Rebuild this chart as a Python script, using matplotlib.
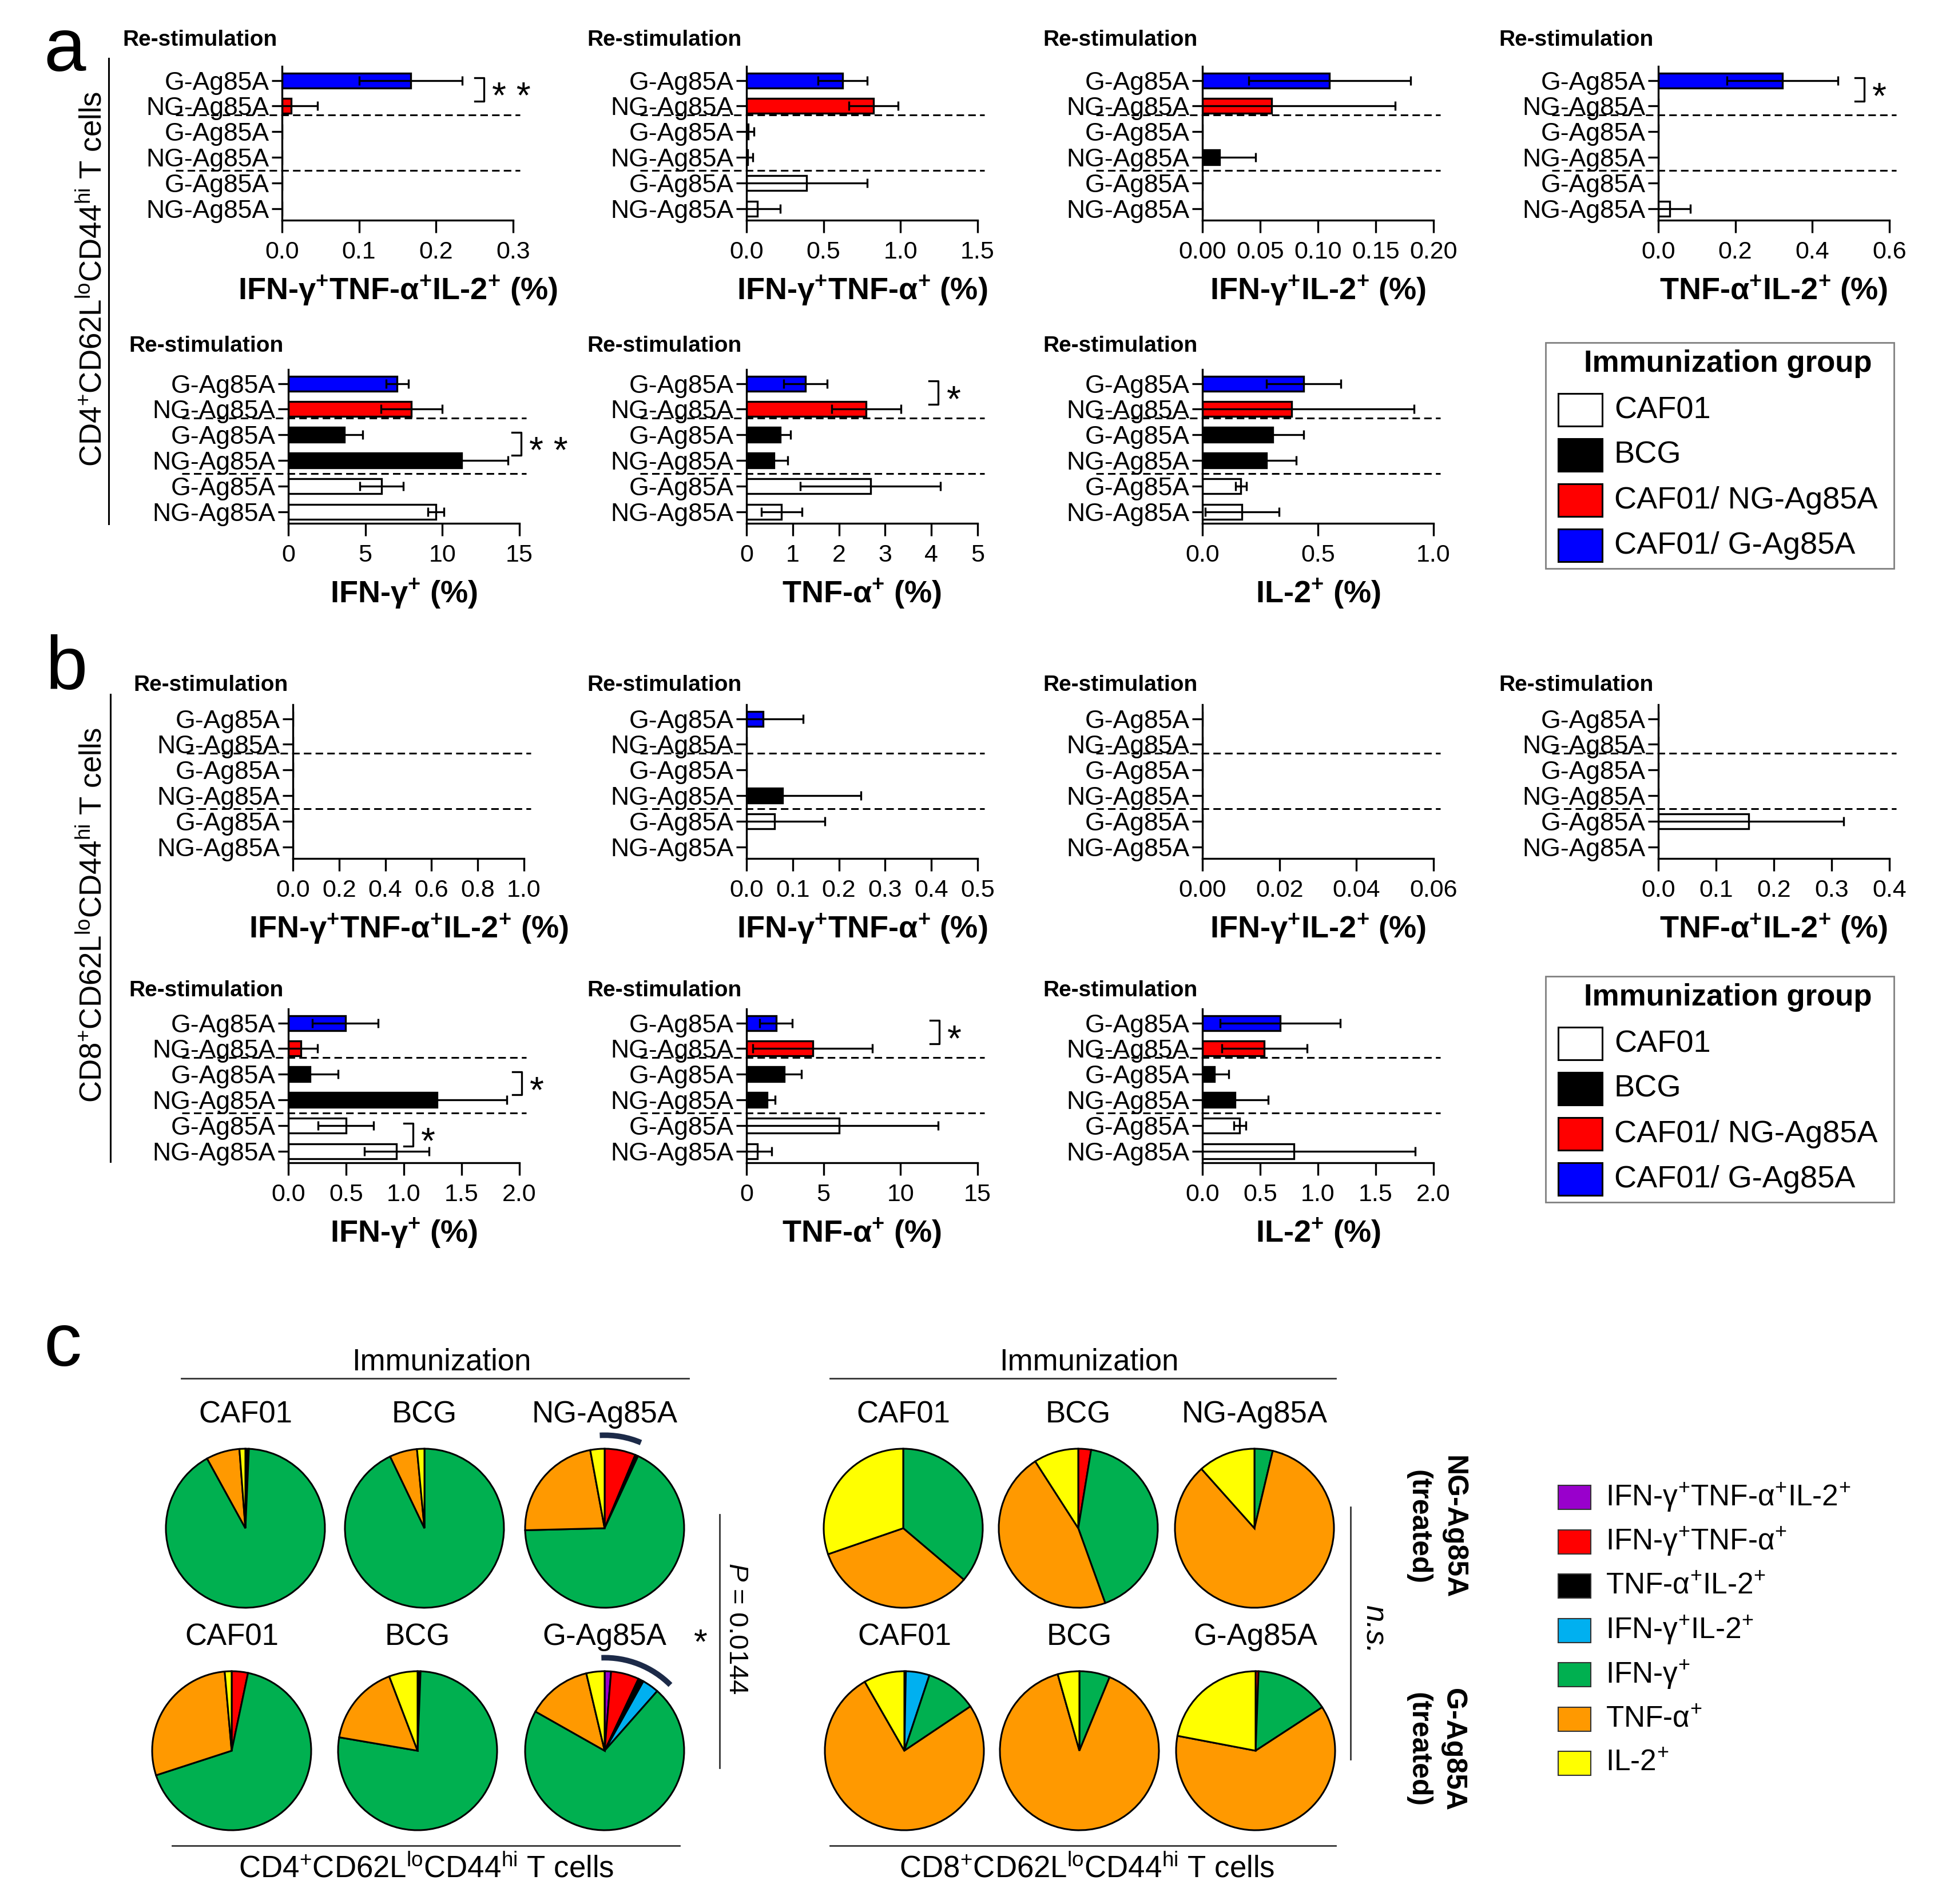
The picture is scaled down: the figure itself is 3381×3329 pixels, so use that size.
import numpy as np
import matplotlib
matplotlib.use('Agg')
import matplotlib.pyplot as plt
import matplotlib.transforms as mtransforms
from matplotlib.patches import Rectangle, Arc
from matplotlib.lines import Line2D

plt.rcParams['font.family'] = ['Liberation Sans', 'DejaVu Sans']
plt.rcParams['mathtext.fontset'] = 'custom'
plt.rcParams['mathtext.rm'] = 'Liberation Sans'
plt.rcParams['mathtext.it'] = 'Liberation Sans:italic'
plt.rcParams['mathtext.bf'] = 'Liberation Sans:bold'

# ---------------- data ----------------
restim = ['G-Ag85A', 'NG-Ag85A', 'G-Ag85A', 'NG-Ag85A', 'G-Ag85A', 'NG-Ag85A']
row_colors = ['#0000ff', '#ff0000', '#000000', '#000000', '#ffffff', '#ffffff']

immun_groups = ['CAF01', 'BCG', 'CAF01/ NG-Ag85A', 'CAF01/ G-Ag85A']
immun_colors = ['#ffffff', '#000000', '#ff0000', '#0000ff']

# CD4 (panel a), mean and error, rows top to bottom
cd4_tri = [0.167, 0.012, 0, 0, 0, 0]
cd4_tri_err = [0.067, 0.034, 0, 0, 0, 0]
cd4_ifn_tnf = [0.625, 0.823, 0.010, 0.006, 0.390, 0.070]
cd4_ifn_tnf_err = [0.16, 0.16, 0.04, 0.035, 0.395, 0.15]
cd4_ifn_il2 = [0.110, 0.060, 0, 0.015, 0, 0]
cd4_ifn_il2_err = [0.070, 0.107, 0, 0.031, 0, 0]
cd4_tnf_il2 = [0.322, 0, 0, 0, 0, 0.029]
cd4_tnf_il2_err = [0.144, 0, 0, 0, 0, 0.054]
cd4_ifn = [7.07, 8.0, 3.64, 11.24, 6.06, 9.58]
cd4_ifn_err = [0.73, 1.98, 1.2, 3.03, 1.42, 0.52]
cd4_tnf = [1.28, 2.59, 0.73, 0.60, 2.68, 0.76]
cd4_tnf_err = [0.47, 0.75, 0.22, 0.29, 1.52, 0.44]
cd4_il2 = [0.438, 0.387, 0.305, 0.276, 0.167, 0.172]
cd4_il2_err = [0.16, 0.53, 0.133, 0.13, 0.024, 0.16]

# CD8 (panel b)
cd8_tri = [0, 0, 0, 0, 0, 0]
cd8_tri_err = [0, 0, 0, 0, 0, 0]
cd8_ifn_tnf = [0.036, 0, 0, 0.078, 0.061, 0]
cd8_ifn_tnf_err = [0.087, 0, 0, 0.169, 0.108, 0]
cd8_ifn_il2 = [0, 0, 0, 0, 0, 0]
cd8_ifn_il2_err = [0, 0, 0, 0, 0, 0]
cd8_tnf_il2 = [0, 0, 0, 0, 0.156, 0]
cd8_tnf_il2_err = [0, 0, 0, 0, 0.165, 0]
cd8_ifn = [0.493, 0.107, 0.188, 1.287, 0.499, 0.938]
cd8_ifn_err = [0.285, 0.145, 0.241, 0.606, 0.241, 0.279]
cd8_tnf = [1.92, 4.29, 2.45, 1.35, 6.0, 0.69]
cd8_tnf_err = [1.06, 3.87, 1.1, 0.49, 6.45, 0.94]
cd8_il2 = [0.674, 0.536, 0.106, 0.281, 0.324, 0.79]
cd8_il2_err = [0.52, 0.37, 0.122, 0.29, 0.053, 1.05]

cd4_ticks = [['0.0', '0.1', '0.2', '0.3'], ['0.0', '0.5', '1.0', '1.5'],
             ['0.00', '0.05', '0.10', '0.15', '0.20'], ['0.0', '0.2', '0.4', '0.6'],
             ['0', '5', '10', '15'], ['0', '1', '2', '3', '4', '5'], ['0.0', '0.5', '1.0']]
cd8_ticks = [['0.0', '0.2', '0.4', '0.6', '0.8', '1.0'], ['0.0', '0.1', '0.2', '0.3', '0.4', '0.5'],
             ['0.00', '0.02', '0.04', '0.06'], ['0.0', '0.1', '0.2', '0.3', '0.4'],
             ['0.0', '0.5', '1.0', '1.5', '2.0'], ['0', '5', '10', '15'],
             ['0.0', '0.5', '1.0', '1.5', '2.0']]

P = r'$^{\mathbf{+}}$'
xlabels = ['IFN-γ' + P + 'TNF-α' + P + 'IL-2' + P + ' (%)',
           'IFN-γ' + P + 'TNF-α' + P + ' (%)',
           'IFN-γ' + P + 'IL-2' + P + ' (%)',
           'TNF-α' + P + 'IL-2' + P + ' (%)',
           'IFN-γ' + P + ' (%)',
           'TNF-α' + P + ' (%)',
           'IL-2' + P + ' (%)']

# significance: (panel index, upper row, lower row, x, stars)
cd4_sig = [(0, 0, 1, 0.262, '* *'), (3, 0, 1, 0.535, '*'), (4, 2, 3, 15.1, '* *'), (5, 0, 1, 4.15, '*')]
cd8_sig = [(4, 2, 3, 2.02, '*'), (4, 4, 5, 1.08, '*'), (5, 0, 1, 12.5, '*')]

# pies (panel c): order purple, red, black, blue, green, orange, yellow
cyto_labels = ['IFN-γ$^{+}$TNF-α$^{+}$IL-2$^{+}$', 'IFN-γ$^{+}$TNF-α$^{+}$', 'TNF-α$^{+}$IL-2$^{+}$',
               'IFN-γ$^{+}$IL-2$^{+}$', 'IFN-γ$^{+}$', 'TNF-α$^{+}$', 'IL-2$^{+}$']
cyto_colors = ['#9900cc', '#ff0000', '#000000', '#00b0f0', '#00b050', '#ff9900', '#ffff00']

cd4_ng_caf01 = [0, 0, 0.7, 0, 91.3, 6.8, 1.2]
cd4_ng_bcg = [0, 0, 0, 0, 92.9, 5.6, 1.5]
cd4_ng_ag85a = [0, 6.3, 0.6, 0, 67.7, 22.5, 2.9]
cd4_g_caf01 = [0, 3.3, 0, 0, 66.7, 28.6, 1.4]
cd4_g_bcg = [0, 0, 0.6, 0, 77.1, 16.5, 5.8]
cd4_g_ag85a = [1.3, 5.7, 1.1, 3.4, 71.7, 13.1, 3.7]
cd8_ng_caf01 = [0, 0, 0, 0, 36.2, 33.5, 30.3]
cd8_ng_bcg = [0, 2.6, 0, 0, 41.9, 46.4, 9.1]
cd8_ng_ag85a = [0, 0, 0, 0, 3.7, 84.7, 11.6]
cd8_g_caf01 = [0, 0, 0.3, 4.8, 10.5, 76.1, 8.3]
cd8_g_bcg = [0, 0, 0, 0, 6.2, 89.4, 4.4]
cd8_g_ag85a = [0, 0.6, 0, 0, 15.2, 62.2, 22.0]

pie_top_names = ['CAF01', 'BCG', 'NG-Ag85A']
pie_bottom_names = ['CAF01', 'BCG', 'G-Ag85A']

# ---------------- layout helpers (pixels) ----------------
W, H = 3381, 3329
AX_W, AX_H = 404, 269
fig = plt.figure(figsize=(W / 100, H / 100), dpi=100)


def fx(x):
    return x / W


def fy(y):
    return 1 - y / H


def bar_panel(x0, top, vals, errs, ticklabels, xlabel, restim_dy):
    ax = fig.add_axes([fx(x0), fy(top + AX_H), AX_W / W, AX_H / H])
    rows = np.arange(len(restim))
    v = np.array(vals, dtype=float)
    e = np.array(errs, dtype=float)
    ax.barh(rows, v, height=0.58, color=row_colors, edgecolor='k', linewidth=2.4, zorder=2)
    m = e > 0
    if m.any():
        ax.errorbar(v[m], rows[m], xerr=e[m], fmt='none', ecolor='k', elinewidth=2.4,
                    capsize=6, capthick=2.4, zorder=3)
    ticks = [float(t) for t in ticklabels]
    ax.set_xlim(ticks[0], ticks[-1])
    ax.set_ylim(5.45, -0.55)
    ax.set_xticks(ticks)
    ax.set_xticklabels(ticklabels)
    ax.set_yticks(rows)
    ax.set_yticklabels(restim)
    for s in ['top', 'right']:
        ax.spines[s].set_visible(False)
    for s in ['left', 'bottom']:
        ax.spines[s].set_linewidth(2.4)
    ax.tick_params(axis='x', length=16, width=2.4, pad=10, labelsize=31)
    ax.tick_params(axis='y', length=13, width=2.4, pad=3, labelsize=32)
    trans = mtransforms.blended_transform_factory(ax.transAxes, ax.transData)
    for yd in [1.35, 3.52]:
        ax.plot([-0.46, 1.03], [yd, yd], transform=trans, color='k', lw=2.2,
                ls=(0, (4.3, 2.4)), clip_on=False, zorder=1)
    ax.text(-0.69, 1 + restim_dy, 'Re-stimulation', transform=ax.transAxes,
            fontsize=28, fontweight='bold', ha='left', va='center')
    ax.text(0.5, -0.46, xlabel, transform=ax.transAxes, fontsize=39,
            fontweight='bold', ha='center', va='center')
    return ax


def add_sig(ax, r0, r1, x, stars):
    xmax = ax.get_xlim()[1]
    arm = 0.04 * xmax
    ax.plot([x - arm, x, x, x - arm], [r0 - 0.1, r0 - 0.1, r1 - 0.2, r1 - 0.2],
            color='k', lw=2.4, clip_on=False)
    ax.text(x + 0.035 * xmax, (r0 + r1) / 2 + 0.2, stars, fontsize=46, ha='left',
            va='center', clip_on=False)


cd4_sets = [(cd4_tri, cd4_tri_err), (cd4_ifn_tnf, cd4_ifn_tnf_err), (cd4_ifn_il2, cd4_ifn_il2_err),
            (cd4_tnf_il2, cd4_tnf_il2_err), (cd4_ifn, cd4_ifn_err), (cd4_tnf, cd4_tnf_err),
            (cd4_il2, cd4_il2_err)]
cd8_sets = [(cd8_tri, cd8_tri_err), (cd8_ifn_tnf, cd8_ifn_tnf_err), (cd8_ifn_il2, cd8_ifn_il2_err),
            (cd8_tnf_il2, cd8_tnf_il2_err), (cd8_ifn, cd8_ifn_err), (cd8_tnf, cd8_tnf_err),
            (cd8_il2, cd8_il2_err)]

# panel positions: (x0, top, restim offset)
cd4_pos = [(493, 116, 0.17), (1305, 116, 0.17), (2102, 116, 0.17), (2899, 116, 0.17),
           (504, 646, 0.152), (1305, 646, 0.152), (2102, 646, 0.152)]
cd8_pos = [(512, 1232, 0.128), (1305, 1232, 0.128), (2102, 1232, 0.128), (2899, 1232, 0.128),
           (504, 1764, 0.119), (1305, 1764, 0.119), (2102, 1764, 0.119)]

for sets, pos, ticks, sigs in [(cd4_sets, cd4_pos, cd4_ticks, cd4_sig),
                               (cd8_sets, cd8_pos, cd8_ticks, cd8_sig)]:
    axes = []
    for i, (vals, errs) in enumerate(sets):
        x0, top, dy = pos[i]
        axes.append(bar_panel(x0, top, vals, errs, ticks[i], xlabels[i], dy))
    for (i, r0, r1, x, st) in sigs:
        add_sig(axes[i], r0, r1, x, st)

# group labels and lines on the left
fig.text(fx(163), fy(488), r'CD4$^{+}$CD62L$^{\mathrm{lo}}$CD44$^{\mathrm{hi}}$ T cells',
         rotation=90, fontsize=38, ha='center', va='center')
fig.add_artist(Line2D([fx(190), fx(190)], [fy(102), fy(916)], color='k', lw=2.2))
fig.text(fx(163), fy(1600), r'CD8$^{+}$CD62L$^{\mathrm{lo}}$CD44$^{\mathrm{hi}}$ T cells',
         rotation=90, fontsize=38, ha='center', va='center')
fig.add_artist(Line2D([fx(193), fx(193)], [fy(1214), fy(2031)], color='k', lw=2.2))

# panel letters
fig.text(fx(76), fy(124), 'a', fontsize=95, ha='left', va='baseline')
fig.text(fx(80), fy(1205), 'b', fontsize=95, ha='left', va='baseline')
fig.text(fx(76), fy(2388), 'c', fontsize=95, ha='left', va='baseline')

# immunization group legends
for box_top in [599, 1707]:
    fig.add_artist(Rectangle((fx(2702), fy(box_top + 395)), 609 / W, 395 / H,
                             transform=fig.transFigure, fill=False, ec='#808080', lw=2))
    fig.text(fx(3021), fy(box_top + 37), 'Immunization group', fontsize=38,
             fontweight='bold', ha='center', va='center')
    for k, (g, c) in enumerate(zip(immun_groups, immun_colors)):
        yc = box_top + 118 + 79 * k
        fig.add_artist(Rectangle((fx(2724), fy(yc + 28)), 77 / W, 57 / H,
                                 transform=fig.transFigure, fc=c, ec='k', lw=2.2))
        fig.text(fx(2822), fy(yc), g, fontsize=39, ha='left', va='center')

# ---------------- panel c: pies ----------------
R = 139
S = 2.6 * R


def pie_at(cx, cy, vals, name, arc=None):
    ax = fig.add_axes([fx(cx - S / 2), fy(cy + S / 2), S / W, S / H])
    v = [x for x in vals if x > 0]
    c = [col for x, col in zip(vals, cyto_colors) if x > 0]
    ax.pie(v, colors=c, startangle=90, counterclock=False, radius=1,
           wedgeprops=dict(edgecolor='k', linewidth=2.2))
    ax.set_xlim(-1.3, 1.3)
    ax.set_ylim(-1.3, 1.3)
    ax.set_aspect('equal')
    ax.axis('off')
    ax.text(0, 1.43, name, fontsize=38, ha='center', va='center', clip_on=False)
    if arc is not None:
        ax.add_patch(Arc((0, 0), 2.34, 2.34, theta1=arc[0], theta2=arc[1], lw=7,
                         color='#1c2a48', clip_on=False))


cd4_top = [cd4_ng_caf01, cd4_ng_bcg, cd4_ng_ag85a]
cd4_bottom = [cd4_g_caf01, cd4_g_bcg, cd4_g_ag85a]
cd8_top = [cd8_ng_caf01, cd8_ng_bcg, cd8_ng_ag85a]
cd8_bottom = [cd8_g_caf01, cd8_g_bcg, cd8_g_ag85a]

cd4_top_x = [429, 742, 1057]
cd4_bottom_x = [405, 730, 1057]
cd8_top_x = [1579, 1885, 2193]
cd8_bottom_x = [1581, 1887, 2195]
for i in range(3):
    pie_at(cd4_top_x[i], 2672, cd4_top[i], pie_top_names[i], arc=(67, 93) if i == 2 else None)
    pie_at(cd4_bottom_x[i], 3061, cd4_bottom[i], pie_bottom_names[i], arc=(45, 92) if i == 2 else None)
    pie_at(cd8_top_x[i], 2672, cd8_top[i], pie_top_names[i])
    pie_at(cd8_bottom_x[i], 3061, cd8_bottom[i], pie_bottom_names[i])

# headers and footers
for xc, x0, x1 in [(772, 317, 1204), (1904, 1451, 2335)]:
    fig.text(fx(xc), fy(2381), 'Immunization', fontsize=38, ha='center', va='center')
    fig.add_artist(Line2D([fx(x0), fx(x1)], [fy(2410), fy(2410)], color='#333333', lw=2))
fig.add_artist(Line2D([fx(301), fx(1188)], [fy(3227), fy(3227)], color='#333333', lw=2))
fig.add_artist(Line2D([fx(1451), fx(2335)], [fy(3227), fy(3227)], color='#333333', lw=2))
fig.text(fx(745), fy(3268), r'CD4$^{+}$CD62L$^{\mathrm{lo}}$CD44$^{\mathrm{hi}}$ T cells',
         fontsize=38, ha='center', va='center')
fig.text(fx(1900), fy(3268), r'CD8$^{+}$CD62L$^{\mathrm{lo}}$CD44$^{\mathrm{hi}}$ T cells',
         fontsize=38, ha='center', va='center')

# statistics
fig.add_artist(Line2D([fx(1258), fx(1258)], [fy(2648), fy(3091)], color='#333333', lw=2))
fig.text(fx(1287), fy(2847), r'$\it{P}$ = 0.0144', rotation=-90, fontsize=34,
         ha='center', va='center')
fig.text(fx(1225), fy(2875), '*', fontsize=44, ha='center', va='center')
fig.add_artist(Line2D([fx(2361), fx(2361)], [fy(2635), fy(3076)], color='#333333', lw=2))
fig.text(fx(2402), fy(2849), 'n.s.', rotation=-90, fontsize=38, style='italic',
         ha='center', va='center')

fig.text(fx(2510), fy(2670), 'NG-Ag85A\n(treated)', rotation=-90, fontsize=36,
         fontweight='bold', ha='center', va='center', multialignment='center', linespacing=1.4)
fig.text(fx(2510), fy(3059), 'G-Ag85A\n(treated)', rotation=-90, fontsize=36,
         fontweight='bold', ha='center', va='center', multialignment='center', linespacing=1.4)

# cytokine legend
for k, (lab, col) in enumerate(zip(cyto_labels, cyto_colors)):
    yc = 2618 + 77.5 * k
    fig.add_artist(Rectangle((fx(2724), fy(yc + 21)), 57 / W, 42 / H,
                             transform=fig.transFigure, fc=col, ec='#333333', lw=1.5))
    fig.text(fx(2807), fy(yc), lab, fontsize=37, ha='left', va='center')

fig.savefig('out.png', dpi=100)
